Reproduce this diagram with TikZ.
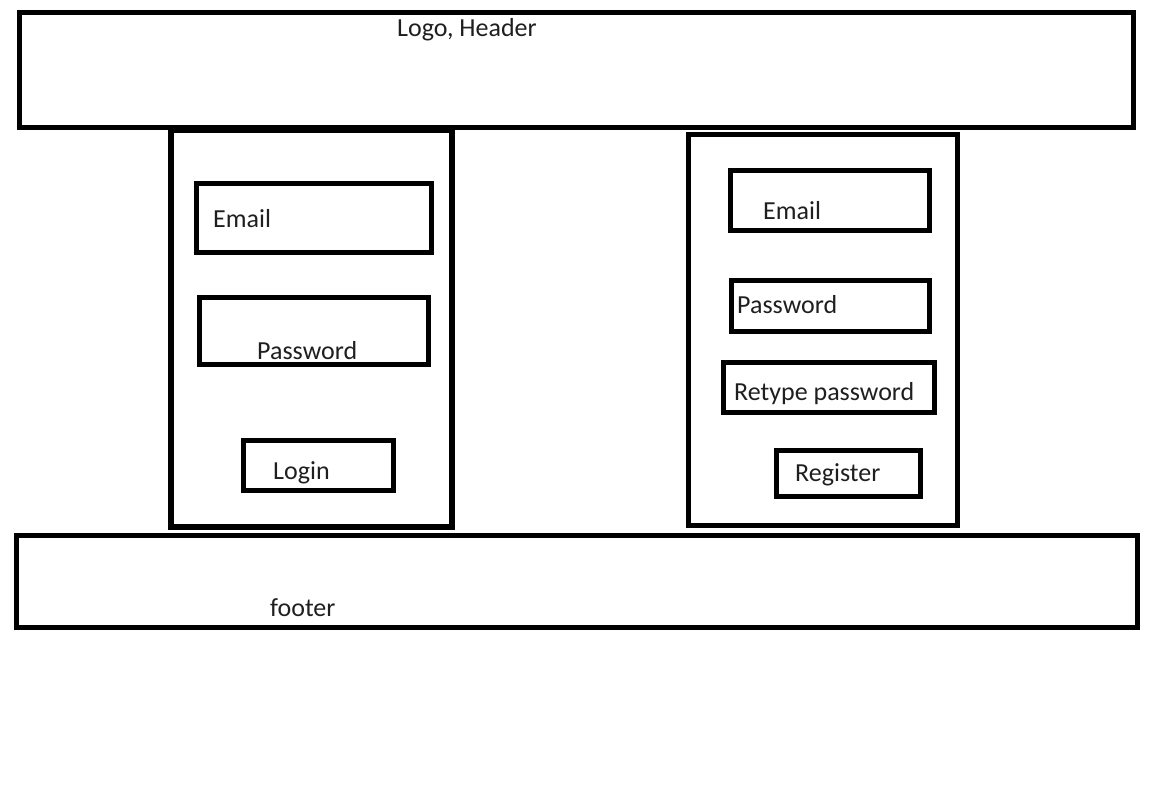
\documentclass[tikz,border=0pt]{standalone}
\usepackage{fontspec}
\setmainfont{Carlito}
\begin{document}
\begin{tikzpicture}[x=1pt,y=-1pt,
  box/.style={draw=black,line width=5pt},
  lbl/.style={anchor=base west,inner sep=0pt,text=black!88,font=\fontsize{26}{30}\selectfont}]
\useasboundingbox[fill=white] (0,0) rectangle (1171,796);
% header
\draw[box] (19.5,12) rectangle (1133,127);
\node[lbl] (hdr) at (397,36) {Logo, Header};
% left panel
\draw[box,line width=5.5pt] (171,130) rectangle (452,527);
\draw[box] (196,183) rectangle (431,252);
\node[lbl] (lemail) at (213,227) {Email};
\draw[box] (199,297) rectangle (428,364);
\node[lbl] (lpass) at (257,359) {Password};
\draw[box] (243,440) rectangle (393,490);
\node[lbl] (login) at (273,479) {Login};
% right panel
\draw[box] (688,134) rectangle (957,525);
\draw[box] (730,170) rectangle (929,230);
\node[lbl] (remail) at (763,219) {Email};
\draw[box] (731,280) rectangle (929,331);
\node[lbl] (rpass) at (737,313) {Password};
\draw[box] (723,362) rectangle (934,412);
\node[lbl] (retype) at (734,400) {Retype password};
\draw[box] (776,450) rectangle (920,496);
\node[lbl] (reg) at (795,481) {Register};
% footer
\draw[box] (16,535) rectangle (1137,627);
\node[lbl] (foot) at (270,616) {footer};
\end{tikzpicture}
\end{document}
